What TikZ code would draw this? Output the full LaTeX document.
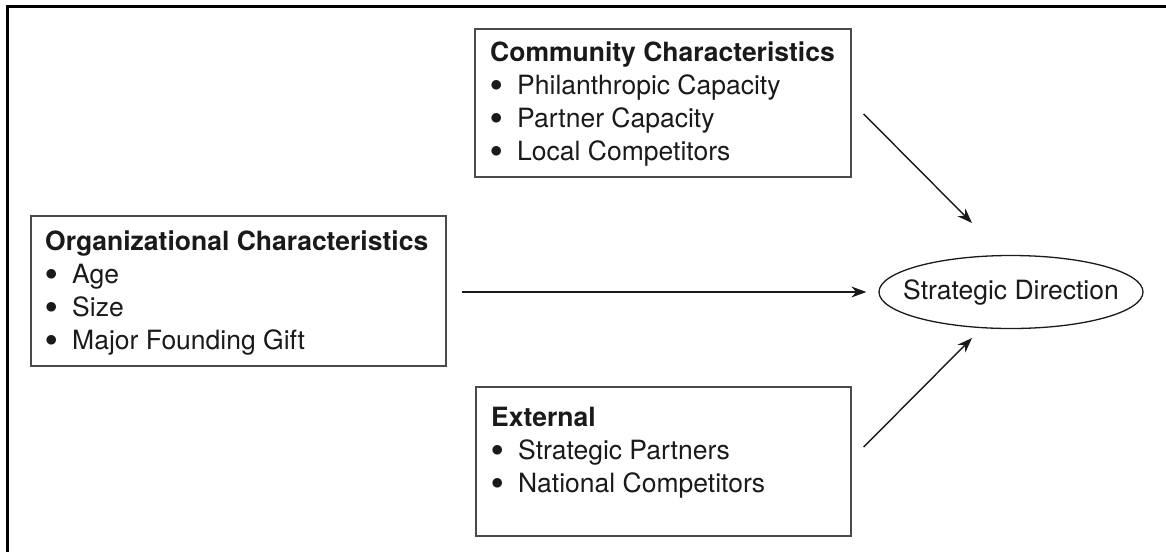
\documentclass[tikz,border=0pt]{standalone}
\usepackage{fontspec}
\setmainfont{TeX Gyre Heros}
\usetikzlibrary{arrows.meta,shapes.geometric,calc}
\definecolor{boxline}{HTML}{4A4A4A}
\definecolor{ink}{HTML}{1A1A1A}
\tikzset{
  factorbox/.style={draw=boxline,line width=1.4pt,rectangle,inner sep=0pt},
  boxline/.style={anchor=base west,inner sep=0pt,text=ink,font=\fontsize{26.5}{33}\selectfont},
  boxhead/.style={boxline,font=\fontsize{26.5}{33}\selectfont\bfseries},
  flow/.style={draw=ink,line width=1.4pt,-{Stealth[length=15pt,width=11pt]}},
  frameline/.style={draw=black,line width=3pt},
}
\newcommand{\itemdot}{\makebox[27pt][l]{\raisebox{3pt}{$\bullet$}}}
\begin{document}
\begin{tikzpicture}[x=1pt,y=-1pt]
\useasboundingbox (0,0) rectangle (1166,552);
% page frame: top and left rules only
\draw[frameline] (1166,6.5) -- (7.5,6.5) -- (7.5,552);

% factor boxes
\node[factorbox,minimum width=376pt,minimum height=148pt] (comm) at (663,103) {};
\node[factorbox,minimum width=415pt,minimum height=150pt] (org) at (238.5,291) {};
\node[factorbox,minimum width=375pt,minimum height=149pt] (ext) at (663.5,461.5) {};

% outcome
\node[draw=ink,line width=1.3pt,ellipse,minimum width=264pt,minimum height=73pt,
      inner xsep=-16pt,inner ysep=4pt,
      text=ink,font=\fontsize{26.5}{33}\selectfont] (dir) at (1011,292) {Strategic Direction};

% community characteristics
\node[boxhead] (c0) at (490,61) {Community Characteristics};
\node[boxline] (c1) at (490,94) {\itemdot Philanthropic Capacity};
\node[boxline] (c2) at (490,127) {\itemdot Partner Capacity};
\node[boxline] (c3) at (490,160) {\itemdot Local Competitors};

% organizational characteristics
\node[boxhead] (o0) at (45,250) {Organizational Characteristics};
\node[boxline] (o1) at (45,283) {\itemdot Age};
\node[boxline] (o2) at (45,316) {\itemdot Size};
\node[boxline] (o3) at (45,349) {\itemdot Major Founding Gift};

% external
\node[boxhead] (e0) at (491,426) {External};
\node[boxline] (e1) at (491,459) {\itemdot Strategic Partners};
\node[boxline] (e2) at (491,492) {\itemdot National Competitors};

% influences
\draw[flow] ($(comm.east)+(12,11)$) -- ($(dir.center)+(-39,-69)$);
\draw[flow,shorten <=15pt,shorten >=12pt] (org.east |- dir.west) -- (dir.west);
\draw[flow] ($(ext.east)+(12,-14.5)$) -- ($(dir.center)+(-39,46)$);
\end{tikzpicture}
\end{document}
